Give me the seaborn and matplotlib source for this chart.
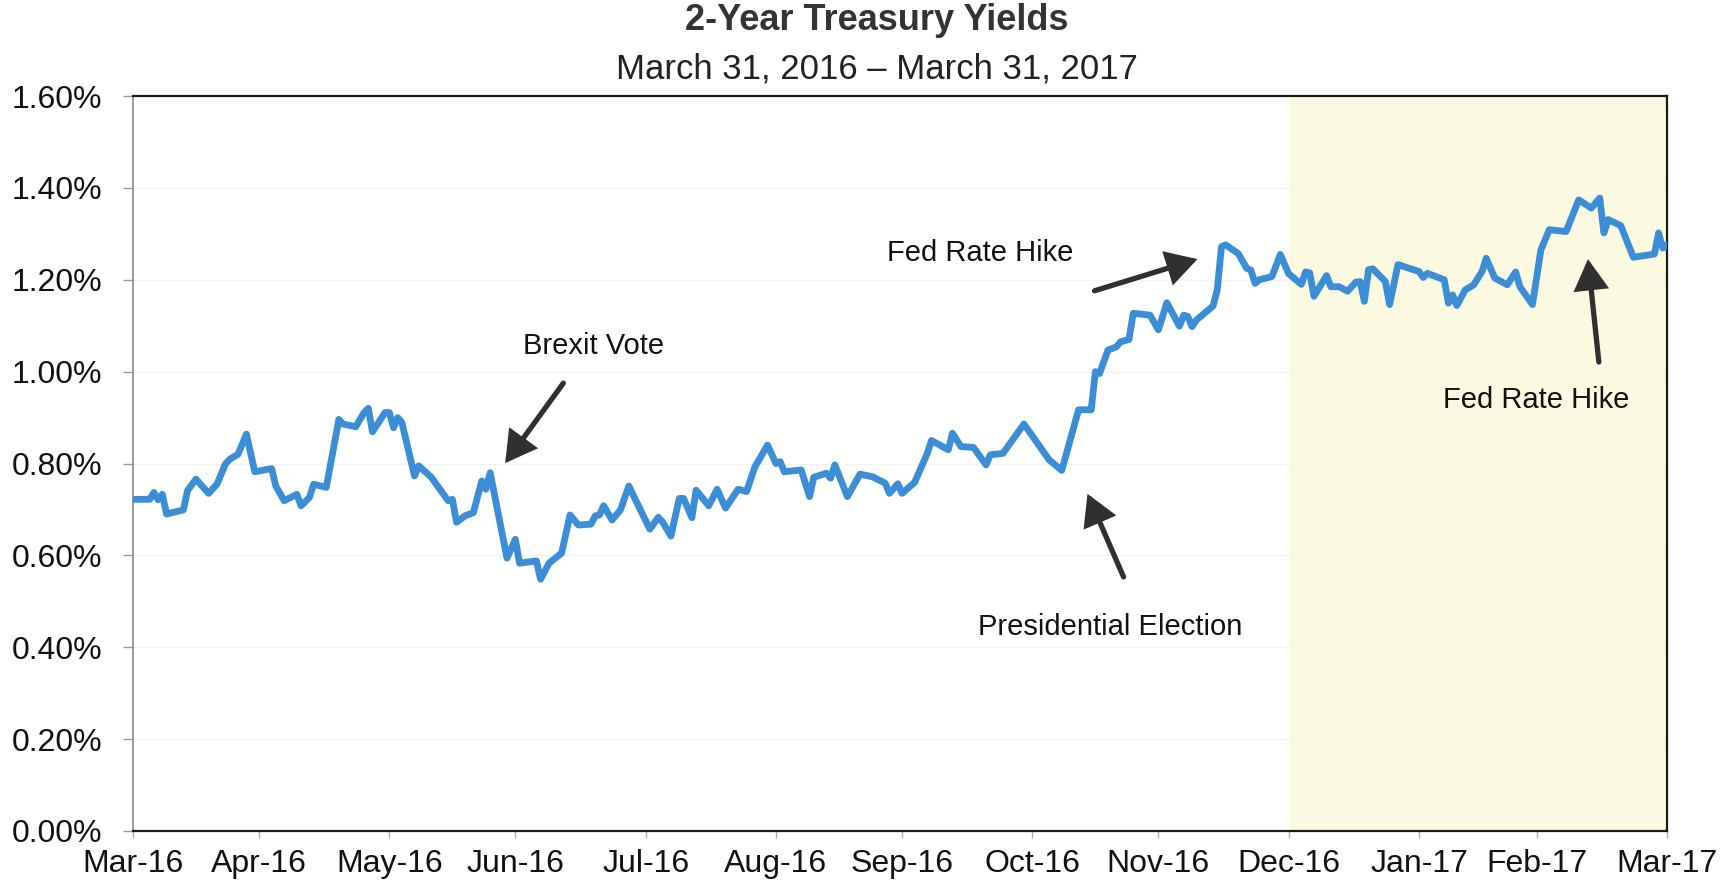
import matplotlib
matplotlib.use("Agg")
import matplotlib.pyplot as plt
from matplotlib.ticker import FuncFormatter, MultipleLocator
import pandas as pd
import seaborn as sns

# Daily 2-year Treasury yield (%), turning points of the series
dates = [
    "2016-03-31", "2016-04-04", "2016-04-05", "2016-04-06", "2016-04-07", "2016-04-08",
    "2016-04-12", "2016-04-13", "2016-04-15", "2016-04-18", "2016-04-20", "2016-04-22",
    "2016-04-23", "2016-04-25", "2016-04-27", "2016-04-29", "2016-05-03", "2016-05-04",
    "2016-05-06", "2016-05-09", "2016-05-10", "2016-05-12", "2016-05-13", "2016-05-16",
    "2016-05-19", "2016-05-20", "2016-05-23", "2016-05-25", "2016-05-26", "2016-05-27",
    "2016-05-30", "2016-05-31", "2016-06-01", "2016-06-02", "2016-06-03", "2016-06-06",
    "2016-06-07", "2016-06-10", "2016-06-14", "2016-06-15", "2016-06-16", "2016-06-18",
    "2016-06-20", "2016-06-22", "2016-06-23", "2016-06-24", "2016-06-28", "2016-06-30",
    "2016-07-01", "2016-07-05", "2016-07-06", "2016-07-08", "2016-07-11", "2016-07-13",
    "2016-07-15", "2016-07-18", "2016-07-19", "2016-07-20", "2016-07-21", "2016-07-23",
    "2016-07-25", "2016-07-27", "2016-07-29", "2016-08-01", "2016-08-03", "2016-08-04",
    "2016-08-06", "2016-08-08", "2016-08-09", "2016-08-11", "2016-08-12", "2016-08-15",
    "2016-08-17", "2016-08-19", "2016-08-22", "2016-08-24", "2016-08-26", "2016-08-29",
    "2016-08-31", "2016-09-01", "2016-09-02", "2016-09-06", "2016-09-08", "2016-09-09",
    "2016-09-12", "2016-09-13", "2016-09-14", "2016-09-17", "2016-09-20", "2016-09-23",
    "2016-09-26", "2016-09-27", "2016-09-29", "2016-09-30", "2016-10-03", "2016-10-06",
    "2016-10-07", "2016-10-11", "2016-10-12", "2016-10-14", "2016-10-17", "2016-10-20",
    "2016-10-21", "2016-10-24", "2016-10-29", "2016-11-04", "2016-11-07", "2016-11-11",
    "2016-11-14", "2016-11-15", "2016-11-16", "2016-11-18", "2016-11-20", "2016-11-21",
    "2016-11-23", "2016-11-24", "2016-11-28", "2016-11-30", "2016-12-02", "2016-12-05",
    "2016-12-06", "2016-12-07", "2016-12-08", "2016-12-09", "2016-12-13", "2016-12-14",
    "2016-12-15", "2016-12-16", "2016-12-19", "2016-12-21", "2016-12-22", "2016-12-23",
    "2016-12-24", "2016-12-27", "2016-12-29", "2016-12-31", "2017-01-03", "2017-01-04",
    "2017-01-05", "2017-01-06", "2017-01-09", "2017-01-10", "2017-01-12", "2017-01-14",
    "2017-01-16", "2017-01-17", "2017-01-18", "2017-01-19", "2017-01-20", "2017-01-23",
    "2017-01-24", "2017-01-26", "2017-01-28", "2017-01-31", "2017-02-01", "2017-02-02",
    "2017-02-04", "2017-02-06", "2017-02-07", "2017-02-08", "2017-02-09", "2017-02-11",
    "2017-02-13", "2017-02-15", "2017-02-16", "2017-02-18", "2017-02-21", "2017-02-23",
    "2017-02-24", "2017-02-27", "2017-03-01", "2017-03-03", "2017-03-07", "2017-03-10",
    "2017-03-13", "2017-03-15", "2017-03-16", "2017-03-17", "2017-03-20", "2017-03-23",
    "2017-03-28", "2017-03-29", "2017-03-30", "2017-03-31",
]
yields = [
    0.722, 0.722, 0.737, 0.721, 0.733, 0.690,
    0.699, 0.741, 0.766, 0.735, 0.755, 0.799,
    0.809, 0.820, 0.864, 0.782, 0.789, 0.751,
    0.719, 0.733, 0.708, 0.726, 0.755, 0.748,
    0.896, 0.886, 0.880, 0.911, 0.920, 0.869,
    0.911, 0.911, 0.878, 0.900, 0.889, 0.773,
    0.795, 0.770, 0.719, 0.722, 0.672, 0.686,
    0.693, 0.762, 0.744, 0.780, 0.594, 0.635,
    0.583, 0.588, 0.548, 0.583, 0.605, 0.688,
    0.666, 0.668, 0.686, 0.688, 0.708, 0.677,
    0.699, 0.751, 0.713, 0.657, 0.683, 0.673,
    0.642, 0.724, 0.724, 0.682, 0.742, 0.708,
    0.744, 0.703, 0.744, 0.739, 0.793, 0.840,
    0.800, 0.804, 0.782, 0.786, 0.728, 0.770,
    0.779, 0.768, 0.797, 0.728, 0.777, 0.771,
    0.757, 0.735, 0.756, 0.735, 0.759, 0.822,
    0.850, 0.830, 0.866, 0.837, 0.835, 0.797,
    0.819, 0.822, 0.886, 0.808, 0.785, 0.917,
    0.917, 1.000, 0.996, 1.047, 1.054, 1.065,
    1.070, 1.127, 1.123, 1.091, 1.150, 1.099,
    1.123, 1.120, 1.098, 1.112, 1.143, 1.178,
    1.272, 1.276, 1.257, 1.225, 1.221, 1.192,
    1.200, 1.207, 1.255, 1.213, 1.190, 1.217,
    1.215, 1.164, 1.209, 1.185, 1.185, 1.175,
    1.195, 1.196, 1.153, 1.222, 1.224, 1.196,
    1.146, 1.233, 1.227, 1.218, 1.205, 1.214,
    1.207, 1.200, 1.149, 1.167, 1.144, 1.178,
    1.189, 1.218, 1.247, 1.204, 1.189, 1.217,
    1.185, 1.146, 1.265, 1.309, 1.305, 1.374,
    1.356, 1.378, 1.302, 1.331, 1.318, 1.249,
    1.256, 1.302, 1.269, 1.276,
]

tick_labels = ["Mar-16", "Apr-16", "May-16", "Jun-16", "Jul-16", "Aug-16", "Sep-16",
               "Oct-16", "Nov-16", "Dec-16", "Jan-17", "Feb-17", "Mar-17"]

start, end = "2016-03-31", "2017-03-31"
quarter_start, quarter_end = "2016-12-31", "2017-03-31"

# (label, label position, arrow tail, arrow tip) in (date, yield) coordinates
callouts = [
    ("Brexit Vote", ("2016-07-18 14:00", 1.056),
     ("2016-07-11 10:00", 0.975), ("2016-06-27 14:00", 0.801)),
    ("Fed Rate Hike", ("2016-10-18 17:00", 1.258),
     ("2016-11-14 19:00", 1.176), ("2016-12-09 07:00", 1.245)),
    ("Presidential Election", ("2016-11-18 14:00", 0.444),
     ("2016-11-21 17:00", 0.553), ("2016-11-13 03:00", 0.734)),
    ("Fed Rate Hike", ("2017-02-28 00:00", 0.938),
     ("2017-03-14 19:00", 1.021), ("2017-03-12 05:00", 1.245)),
]

sns.set_theme(style="white")
plt.rcParams["font.family"] = ["Liberation Sans", "DejaVu Sans"]

fig = plt.figure(figsize=(17.33, 8.90), dpi=100)
ax = fig.add_axes([0.0767, 0.0663, 0.8852, 0.8258])

ax.axvspan(pd.Timestamp(quarter_start), pd.Timestamp(quarter_end),
           color="#FBFAE0", zorder=0.2, lw=0)

df = pd.DataFrame({"date": pd.to_datetime(dates), "yield": yields})
sns.lineplot(data=df, x="date", y="yield", ax=ax, color="#3B8ED6",
             linewidth=4.9, zorder=3)
for ln in ax.get_lines():
    ln.set_solid_joinstyle("round")
    ln.set_solid_capstyle("round")

ax.set_xlim(pd.Timestamp(start), pd.Timestamp(end))
ax.set_ylim(0, 1.6)
ax.yaxis.set_major_locator(MultipleLocator(0.2))
ax.yaxis.set_major_formatter(FuncFormatter(lambda v, _: f"{v:.2f}%"))
ticks = pd.date_range(start, end, freq="ME")
ax.set_xticks(ticks)
ax.set_xticklabels(tick_labels)
ax.set_xlabel("")
ax.set_ylabel("")

ax.set_axisbelow(True)
ax.yaxis.grid(True, color="#F3F3F3", linewidth=0.9)
ax.xaxis.grid(False)

for side in ("top", "right", "bottom"):
    ax.spines[side].set_color("#1a1a1a")
    ax.spines[side].set_linewidth(1.6)
ax.spines["left"].set_color("#8a8a8a")
ax.spines["left"].set_linewidth(1.2)

ax.tick_params(axis="y", which="major", left=True, length=7, width=1,
               color="#9a9a9a", pad=15, labelsize=23, labelcolor="#111111")
ax.tick_params(axis="x", which="major", bottom=True, length=5, width=1,
               color="#b0b0b0", pad=8, labelsize=23, labelcolor="#111111")

for label, text_pos, tail, tip in callouts:
    ax.text(pd.Timestamp(text_pos[0]), text_pos[1], label, ha="center", va="center",
            fontsize=21, color="#111111", zorder=5)
    ax.annotate("", xy=(pd.Timestamp(tip[0]), tip[1]),
                xytext=(pd.Timestamp(tail[0]), tail[1]),
                arrowprops=dict(arrowstyle="-|>,head_length=0.7,head_width=0.4",
                                lw=3.8, color="#303030", shrinkA=0, shrinkB=0,
                                mutation_scale=24, joinstyle="miter"),
                zorder=5)

fig.text(0.506, 0.977, "2-Year Treasury Yields", ha="center", va="center",
         fontsize=26, fontweight="bold", color="#333333")
fig.text(0.506, 0.922, "March 31, 2016 \u2013 March 31, 2017", ha="center", va="center",
         fontsize=25, color="#222222")

fig.savefig("out.png", dpi=100, facecolor="white")
